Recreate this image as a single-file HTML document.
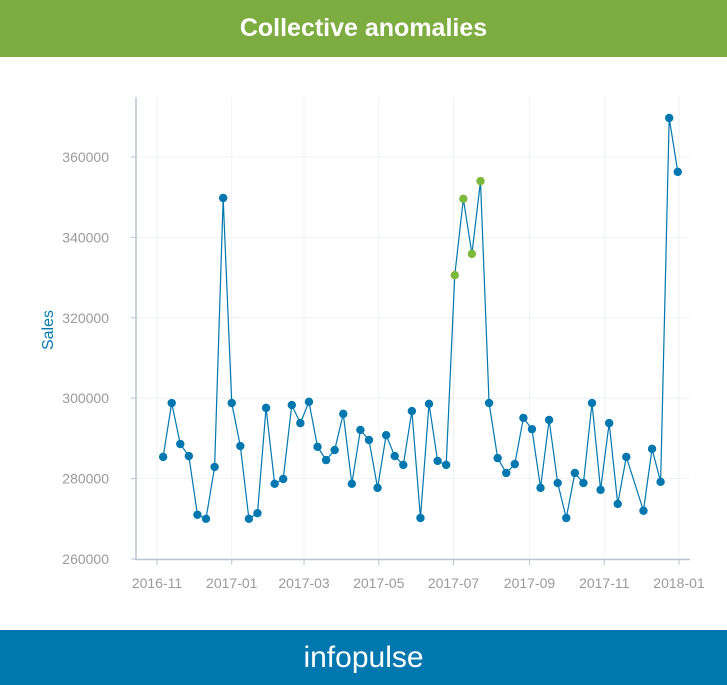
<!DOCTYPE html>
<html><head><meta charset="utf-8"><style>
body{margin:0;width:727px;height:685px;background:#fff;font-family:"Liberation Sans",sans-serif;overflow:hidden}
#hdr{position:absolute;left:0;top:0;width:727px;height:57px;background:#7dad40;color:#fff;font-weight:bold;font-size:25px;text-align:center;line-height:57px}
#ftr{position:absolute;left:0;top:630px;width:727px;height:55px;background:#0077ae;color:#fff;font-size:30px;text-align:center;line-height:55px}
svg{position:absolute;left:0;top:0}
</style></head><body>
<div id="hdr">Collective anomalies</div>
<svg id="chart" width="727" height="685"></svg>
<div id="ftr">infopulse</div>
<script>
const startDate = "2016-11-06";
const weekIndex = [0,1,2,3,4,5,6,7,8,9,10,11,12,13,14,15,16,17,18,19,20,21,22,23,24,25,26,27,28,29,30,31,32,33,34,35,36,37,38,39,40,41,42,43,44,45,46,47,48,49,50,51,52,53,54,56,57,58,59,60];
const sales = [285400,298800,288600,285600,271000,270000,282900,349800,298800,288100,270000,271400,297600,278700,279900,298300,293800,299100,287900,284600,287100,296100,278700,292100,289600,277700,290800,285600,283400,296800,270200,298600,284400,283400,330600,349600,335900,354000,298800,285100,281400,283600,295100,292300,277700,294600,278900,270200,281400,278900,298800,277200,293800,273700,285400,272000,287400,279200,369700,356300];
const anomalyIdx = [34,35,36,37];
const yTicks = [260000,280000,300000,320000,340000,360000];
const xTicks = ["2016-11","2017-01","2017-03","2017-05","2017-07","2017-09","2017-11","2018-01"];

const svg=document.getElementById('chart');const NS="http://www.w3.org/2000/svg";
const day0=Date.UTC(2016,10,1);
function dayOf(s){const p=s.split('-').map(Number);return (Date.UTC(p[0],p[1]-1,p[2]||1)-day0)/864e5;}
const xS=d=>157+d*(522/426);
const yS=v=>559-(v-260000)*(402/100000);
function mk(t,a,txt){const e=document.createElementNS(NS,t);for(const k in a)e.setAttribute(k,a[k]);if(txt!=null)e.textContent=txt;svg.appendChild(e);return e;}
const s0=dayOf(startDate);
// grid
yTicks.forEach(v=>{const y=yS(v);
 let g=mk('line',{x1:137,x2:690,y1:y,y2:y,stroke:'#eef1f4','stroke-width':1});
 
 let t=mk('line',{x1:131,x2:136,y1:y,y2:y,stroke:'#b8c4d2'});
 
 let l=mk('text',{x:109,y:y+5,'text-anchor':'end','font-size':14,fill:'#9a9a9a'},v);
 });
xTicks.forEach(s=>{const x=xS(dayOf(s));
 let g=mk('line',{x1:x,x2:x,y1:97,y2:558,stroke:'#eef1f4'});
 
 let t=mk('line',{x1:x,x2:x,y1:560,y2:565,stroke:'#b8c4d2'});
 
 let l=mk('text',{x:x,y:588,'text-anchor':'middle','font-size':14,fill:'#9a9a9a'},s);
 });
let ya=mk('line',{x1:136,x2:136,y1:97,y2:560,stroke:'#b8c4d2','stroke-width':1.5});

let xa=mk('line',{x1:135,x2:690,y1:559.5,y2:559.5,stroke:'#b8c4d2','stroke-width':1.5});

let yt=mk('text',{x:0,y:0,transform:'translate(53,330) rotate(-90)','text-anchor':'middle','font-size':16,fill:'#0077ae'},'Sales');

const pts=sales.map((v,i)=>[xS(s0+7*weekIndex[i]),yS(v)]);
let ln=mk('polyline',{points:pts.map(p=>p.join(',')).join(' '),fill:'none',stroke:'#0077ae','stroke-width':1.2});

pts.forEach((p,i)=>{const an=anomalyIdx.includes(i);
 let c=mk('circle',{cx:p[0],cy:p[1],r:4.2,fill:an?'#7dba3c':'#0077ae'});
 });
</script>
</body></html>
